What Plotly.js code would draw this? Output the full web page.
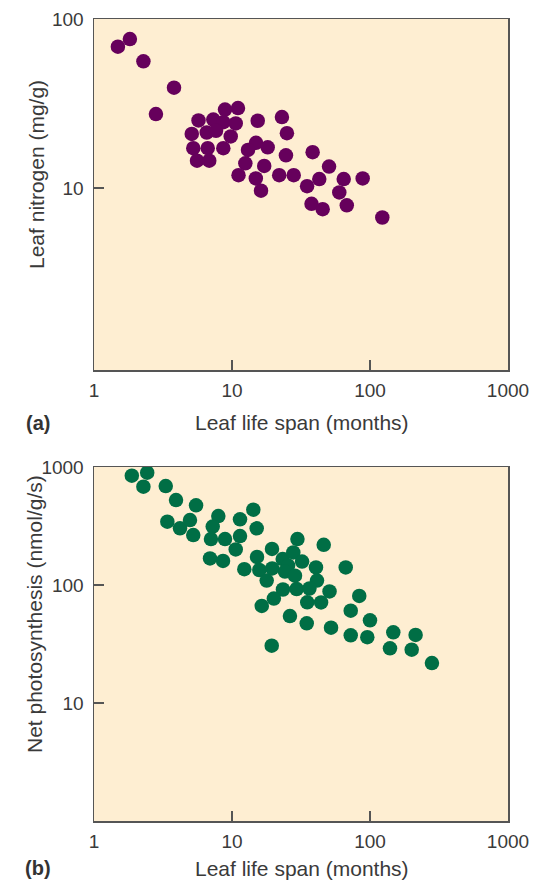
<!DOCTYPE html>
<html>
<head>
<meta charset="utf-8">
<script src="https://cdn.plot.ly/plotly-3.0.1.min.js"></script>
<style>html,body{margin:0;padding:0;background:#fff;}#chart{width:539px;height:883px;}</style>
</head>
<body>
<div id="chart"></div>
<script>
// Panel (a): leaf life span (months) vs leaf nitrogen (mg/g)
const spanA = [1.49, 1.82, 2.28, 3.80, 2.81, 5.72, 7.32, 8.90, 11.05, 8.65, 10.64, 15.36, 23.0, 5.11, 6.56,
  7.66, 9.79, 25.0, 5.24, 6.67, 8.65, 14.93, 13.06, 18.14, 5.58, 6.84, 12.49, 17.12, 24.6, 11.15,
  14.88, 21.98, 28.0, 16.23, 38.4, 50.5, 35.0, 42.9, 64.5, 88.5, 59.9, 37.7, 45.4, 67.9, 122.8];
const nitrogenA = [68.6, 76.1, 56.2, 39.2, 27.4, 25.1, 25.4, 29.1, 29.7, 24.5, 24.1, 25.0, 26.3, 20.9, 21.3,
  21.8, 20.2, 21.1, 17.2, 17.2, 17.2, 18.5, 16.8, 17.4, 14.5, 14.5, 14.0, 13.5, 15.6, 11.9,
  11.4, 11.9, 11.9, 9.64, 16.3, 13.4, 10.25, 11.3, 11.3, 11.4, 9.41, 8.06, 7.49, 7.90, 6.69];

// Panel (b): leaf life span (months) vs net photosynthesis (nmol/g/s)
const spanB = [1.88, 2.43, 2.28, 3.31, 3.93, 5.49, 3.40, 4.20, 4.96, 5.24, 7.96, 7.25, 7.04, 8.90, 11.43,
  14.27, 15.10, 11.43, 10.64, 6.93, 8.61, 19.49, 29.8, 46.2, 15.18, 12.28, 15.77, 19.55, 23.3, 27.8,
  25.5, 24.2, 32.2, 28.6, 40.6, 17.84, 41.3, 23.4, 29.4, 36.4, 50.9, 66.7, 20.1, 16.44, 35.1,
  44.2, 83.6, 26.3, 72.5, 34.8, 52.2, 100, 19.4, 72.5, 95.6, 147.5, 214, 139.6, 200.5, 281];
const photoB = [844, 895, 681, 690, 525, 474, 344, 302, 355, 265, 384, 313, 245, 245, 360,
  435, 302, 260, 200, 168, 160, 202, 245, 219, 173, 136, 134, 138, 166, 189,
  146, 130, 158, 120, 141, 109, 109, 91.6, 92.5, 93.4, 88.1, 141, 76.8, 66.4, 71.4,
  71.1, 80.7, 54.6, 60.6, 47.4, 43.5, 50.2, 30.6, 37.5, 36.1, 39.7, 37.7, 29.1, 28.3, 21.8];

const xTicks = [1, 10, 100, 1000];
const xTickText = ['1', '10', '100', '1000'];
const yTicksA = [10, 100];
const yTicksB = [10, 100, 1000];

const W = 539, H = 883;
const px = v => v / W;
const py = v => 1 - v / H;

const FONT = 'Liberation Sans, Arial, sans-serif';
const TXT = '#3a3a3a';
const LINE = '#555555';
const TITLE_SIZE = 21;

function axisCommon() {
  return {
    type: 'log', showline: true, linecolor: LINE, linewidth: 1.5, mirror: true,
    ticks: 'inside', ticklen: 10, tickwidth: 1.2, tickcolor: LINE,
    showgrid: false, zeroline: false, fixedrange: true,
    tickfont: {family: FONT, size: 19, color: TXT}
  };
}

const traces = [
  {x: spanA, y: nitrogenA, type: 'scatter', mode: 'markers', xaxis: 'x', yaxis: 'y',
   marker: {size: 14.5, color: '#66005C', line: {width: 0}}, hoverinfo: 'skip'},
  {x: spanB, y: photoB, type: 'scatter', mode: 'markers', xaxis: 'x2', yaxis: 'y2',
   marker: {size: 14.5, color: '#006E45', line: {width: 0}}, hoverinfo: 'skip'}
];

const layout = {
  width: W, height: H,
  margin: {l: 0, r: 0, t: 0, b: 0},
  paper_bgcolor: '#ffffff', plot_bgcolor: '#FEEED2',
  showlegend: false,
  xaxis: Object.assign(axisCommon(), {
    domain: [px(94), px(508)], range: [0, 3], anchor: 'y',
    tickvals: xTicks, ticktext: xTickText, ticklabelstandoff: 3
  }),
  yaxis: Object.assign(axisCommon(), {
    domain: [py(370), py(19)], range: [2 - (370 - 19) / 169, 2], anchor: 'x',
    tickvals: yTicksA, ticktext: yTicksA.map(String), ticklabelstandoff: 5
  }),
  xaxis2: Object.assign(axisCommon(), {
    domain: [px(94), px(508)], range: [0, 3], anchor: 'y2',
    tickvals: xTicks, ticktext: xTickText, ticklabelstandoff: 3
  }),
  yaxis2: Object.assign(axisCommon(), {
    domain: [py(821), py(467)], range: [0, 3], anchor: 'x2',
    tickvals: yTicksB, ticktext: yTicksB.map(String), ticklabelstandoff: 5
  }),
  annotations: [
    {text: 'Leaf life span (months)', xref: 'paper', yref: 'paper', x: px(302), y: py(422),
     xanchor: 'center', yanchor: 'middle', showarrow: false, font: {family: FONT, size: TITLE_SIZE, color: TXT}},
    {text: 'Leaf life span (months)', xref: 'paper', yref: 'paper', x: px(302), y: py(868),
     xanchor: 'center', yanchor: 'middle', showarrow: false, font: {family: FONT, size: TITLE_SIZE, color: TXT}},
    {text: 'Leaf nitrogen (mg/g)', xref: 'paper', yref: 'paper', x: px(36), y: py(175), textangle: -90,
     xanchor: 'center', yanchor: 'middle', showarrow: false, font: {family: FONT, size: TITLE_SIZE, color: TXT}},
    {text: 'Net photosynthesis (nmol/g/s)', xref: 'paper', yref: 'paper', x: px(34), y: py(614), textangle: -90,
     xanchor: 'center', yanchor: 'middle', showarrow: false, font: {family: FONT, size: TITLE_SIZE, color: TXT}},
    {text: '<b>(a)</b>', xref: 'paper', yref: 'paper', x: px(38), y: py(423),
     xanchor: 'center', yanchor: 'middle', showarrow: false, font: {family: FONT, size: 20, color: '#333333'}},
    {text: '<b>(b)</b>', xref: 'paper', yref: 'paper', x: px(38), y: py(868),
     xanchor: 'center', yanchor: 'middle', showarrow: false, font: {family: FONT, size: 20, color: '#333333'}}
  ]
};

Plotly.newPlot('chart', traces, layout, {staticPlot: true, displayModeBar: false});
</script>
</body>
</html>
